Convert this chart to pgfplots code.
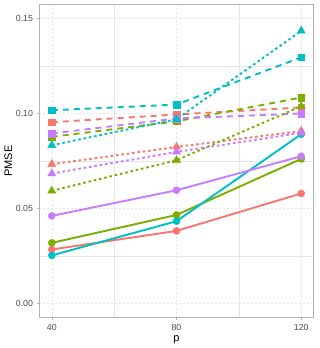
\documentclass[border=0pt]{standalone}
\usepackage{pgfplots}
\pgfplotsset{compat=1.18}
\usepackage{fontspec}
\setmainfont{Liberation Sans}
\definecolor{cR}{HTML}{F8766D}
\definecolor{cG}{HTML}{7CAE00}
\definecolor{cC}{HTML}{00BFC4}
\definecolor{cP}{HTML}{C77CFF}
\definecolor{gridc}{HTML}{E5E5E5}
\definecolor{bordc}{HTML}{B3B3B3}
\definecolor{tickc}{HTML}{4D4D4D}
\tikzset{
  sol/.style={line width=1.9pt, solid, mark=*, mark size=3.5pt, mark options={solid, line width=0.5pt}},
  dsh/.style={line width=1.9pt, dash pattern=on 6pt off 5pt, mark=square*, mark size=3.3pt, mark options={solid, line width=0.5pt}},
  dot/.style={line width=1.9pt, dash pattern=on 2.6pt off 2.8pt, mark=triangle*, mark size=4.6pt, mark options={solid, line width=0.5pt}},
}
\begin{document}
\begin{tikzpicture}
\begin{axis}[
  scale only axis, width=274.4pt, height=313.4pt,
  xmin=36, xmax=124, ymin=-0.0075, ymax=0.1575,
  xtick={40,80,120}, ytick={0,0.05,0.10,0.15},
  minor xtick={60,100}, minor ytick={0.025,0.075,0.125},
  grid=both,
  major grid style={gridc, dash pattern=on 2pt off 2pt, line width=0.4pt},
  minor grid style={gridc, line width=0.4pt},
  axis line style={bordc, line width=0.7pt},
  tick align=outside, xtick pos=bottom, ytick pos=left,
  major tick length=2.75pt, minor tick length=0pt,
  tick style={bordc, line width=0.5pt},
  /pgf/number format/assume math mode=true,
  yticklabel style={/pgf/number format/fixed, /pgf/number format/fixed zerofill, /pgf/number format/precision=2, font=\fontsize{8.8}{10}\selectfont, text=tickc},
  xticklabel style={font=\fontsize{8.8}{10}\selectfont, text=tickc},
  scaled y ticks=false,
]
% solid circles
\addplot[cR, sol] coordinates {(40,0.0284) (80,0.0382) (120,0.0579)};
\addplot[cG, sol] coordinates {(40,0.0319) (80,0.0466) (120,0.0761)};
\addplot[cC, sol] coordinates {(40,0.0253) (80,0.0433) (120,0.0891)};
\addplot[cP, sol] coordinates {(40,0.0461) (80,0.0596) (120,0.0775)};
% dashed squares
\addplot[cR, dsh] coordinates {(40,0.0954) (80,0.0995) (120,0.1032)};
\addplot[cG, dsh] coordinates {(40,0.0877) (80,0.0959) (120,0.1084)};
\addplot[cC, dsh] coordinates {(40,0.1017) (80,0.1047) (120,0.1296)};
\addplot[cP, dsh] coordinates {(40,0.0895) (80,0.0974) (120,0.1000)};
% dotted triangles
\addplot[cR, dot] coordinates {(40,0.0733) (80,0.0824) (120,0.0908)};
\addplot[cG, dot] coordinates {(40,0.0593) (80,0.0754) (120,0.1038)};
\addplot[cC, dot] coordinates {(40,0.0833) (80,0.0970) (120,0.1435)};
\addplot[cP, dot] coordinates {(40,0.0684) (80,0.0798) (120,0.0898)};
\end{axis}
\node[font=\fontsize{11}{12}\selectfont, rotate=90, anchor=center] at (-31pt,156.7pt) {PMSE};
\node[font=\fontsize{11}{12}\selectfont, anchor=center] at (137.2pt,-21.5pt) {p};
\pgfresetboundingbox
\useasboundingbox (-39.3pt,-30.3pt) rectangle (279.7pt,317.7pt);
\end{tikzpicture}
\end{document}
